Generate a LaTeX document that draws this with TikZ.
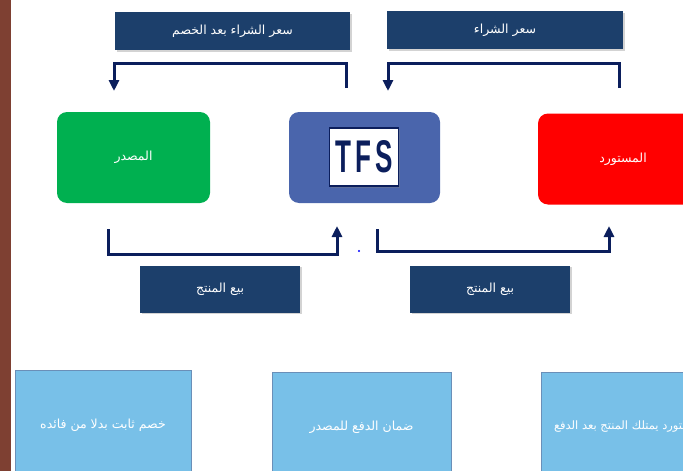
\documentclass[tikz,border=0pt]{standalone}
\usepackage{fontspec}
\usetikzlibrary{arrows.meta,shadows}
\newfontfamily\arabicfont[Script=Arabic]{DejaVu Sans}
\setsansfont{Liberation Sans}
\TeXXeTstate=1
\definecolor{navylab}{HTML}{1C3F6B}
\definecolor{arrownavy}{HTML}{0B1E5C}
\definecolor{greenbox}{HTML}{00B050}
\definecolor{redbox}{HTML}{FF0000}
\definecolor{bluebox}{HTML}{4A65AC}
\definecolor{lightbox}{HTML}{78C0E8}
\definecolor{lightedge}{HTML}{6A8FB8}
\definecolor{brownstrip}{HTML}{7E4032}
\tikzset{
  ar/.style={font=\arabicfont\fontsize{12.5}{14}\selectfont, text=white},
  labelbox/.style={fill=navylab, draw=none, minimum height=38pt, drop shadow={shadow xshift=1.5pt, shadow yshift=-1.5pt, opacity=0.35}},
  actor/.style={rounded corners=10pt, minimum width=153pt, minimum height=91pt, inner sep=0pt},
  infobox/.style={fill=lightbox, draw=lightedge, line width=0.8pt, minimum height=110pt, inner sep=0pt},
  flow/.style={draw=arrownavy, line width=3pt, -{Triangle[width=10pt,length=11pt]}}
}
\begin{document}
\begin{tikzpicture}[x=1pt,y=-1pt]
\useasboundingbox (0,0) rectangle (683,471);
\begin{scope}
\clip (0,0) rectangle (683,471);
\fill[brownstrip] (0,0) rectangle (11,471);

% top labels
\node[labelbox, minimum width=235pt, ar] (lblA) at (232.5,31) {\beginR سعر الشراء بعد الخصم\endR};
\node[labelbox, minimum width=236pt, ar] (lblB) at (505,30) {\beginR سعر الشراء\endR};

% actors
\node[actor, fill=greenbox, ar] (src) at (133.5,157.5) {\beginR المصدر\endR};
\node[actor, fill=bluebox, minimum width=151pt] (tfs) at (364.5,157.5) {};
\node[fill=white, draw=arrownavy, line width=1.2pt, minimum width=69pt, minimum height=58pt, inner sep=0pt,
      text=arrownavy, drop shadow={shadow xshift=1pt, shadow yshift=-1.5pt, opacity=0.4}] (tfslogo) at (364,157)
      {\resizebox{57pt}{32pt}{\sffamily\bfseries T\kern1.5pt F\kern1.5pt S}};
\node[actor, fill=redbox, ar, minimum width=170pt] (imp) at (623,159) {\beginR المستورد\endR};

% coordinates for connectors
\coordinate (a1) at (346,88);
\coordinate (a2) at (346,63);
\coordinate (a3) at (114,63);
\coordinate (a4) at (114,91);
\coordinate (b1) at (619,88);
\coordinate (b2) at (619,63);
\coordinate (b3) at (388,63);
\coordinate (b4) at (388,91);
\coordinate (c1) at (108,229);
\coordinate (c2) at (108,254);
\coordinate (c3) at (337,254);
\coordinate (c4) at (337,226);
\coordinate (d1) at (377,229);
\coordinate (d2) at (377,251);
\coordinate (d3) at (609,251);
\coordinate (d4) at (609,226);

\draw[flow] (a1) -- (a2) -- (a3) -- (a4);
\draw[flow] (b1) -- (b2) -- (b3) -- (b4);
\draw[flow] (c1) -- (c2) -- (c3) -- (c4);
\draw[flow] (d1) -- (d2) -- (d3) -- (d4);

\fill[blue] (359,251) circle (1.1pt);

% bottom labels
\node[labelbox, minimum width=160pt, minimum height=47pt, ar] (sellA) at (220,289) {\beginR بيع المنتج\endR};
\node[labelbox, minimum width=160pt, minimum height=47pt, ar] (sellB) at (490,289) {\beginR بيع المنتج\endR};

% info boxes
\node[infobox, minimum width=176pt, ar] (inf1) at (103,425) {\beginR خصم ثابت بدلا من فائده\endR};
\node[infobox, minimum width=179pt, ar] (inf2) at (361.5,427) {\beginR ضمان الدفع للمصدر\endR};
\node[infobox, minimum width=178pt, ar, font=\arabicfont\fontsize{11.5}{13}\selectfont] (inf3) at (630,427) {\beginR المستورد يمتلك المنتج بعد الدفع\endR};
\end{scope}
\end{tikzpicture}
\end{document}
